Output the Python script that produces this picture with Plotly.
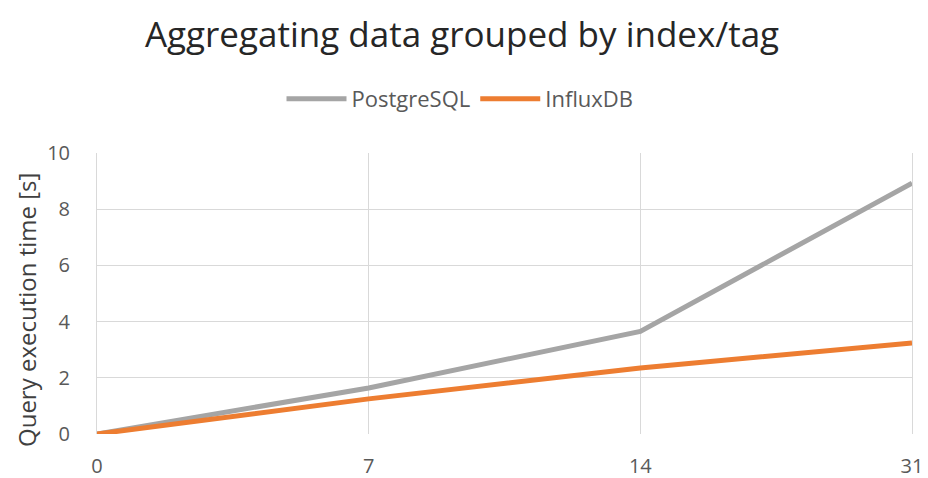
import plotly.graph_objects as go

categories = ["0", "7", "14", "31"]
postgres = [0, 1.64, 3.65, 8.93]
influx = [0, 1.25, 2.35, 3.24]
y_ticks = [0, 2, 4, 6, 8, 10]

# page body has an 8px margin; figure sized to end exactly at the window edge
W, H = 920, 470
PL, PT, PW, PH = 89, 145, 815, 281
fig = go.Figure()
fig.add_trace(go.Scatter(x=categories, y=postgres, mode="lines", name="PostgreSQL",
                         line=dict(color="#A5A5A5", width=5)))
fig.add_trace(go.Scatter(x=categories, y=influx, mode="lines", name="InfluxDB",
                         line=dict(color="#ED7D31", width=5)))

fig.update_layout(
    width=W, height=H,
    margin=dict(l=PL, r=W - PL - PW, t=PT, b=H - PT - PH, autoexpand=False),
    paper_bgcolor="white", plot_bgcolor="white",
    font=dict(family="Open Sans, Liberation Sans, sans-serif", color="#595959"),
    title=dict(text="Aggregating data grouped by index/tag", x=(462 - 8) / W, xanchor="center",
               xref="container", y=1 - 27 / H, yanchor="middle",
               font=dict(size=35, color="#262626")),
    legend=dict(orientation="h", xref="container", x=(460 - 8) / W, xanchor="center",
                y=1 + (PT - 91) / PH, yanchor="middle",
                font=dict(size=22, color="#595959"), itemwidth=60, traceorder="normal"),
    showlegend=True,
    annotations=[dict(text="Query execution time [s]", textangle=-90, showarrow=False,
                      xref="paper", yref="paper", x=(18 - PL) / PW, y=1 - (302 - PT) / PH,
                      xanchor="center", yanchor="middle",
                      font=dict(size=24, color="#404040"))],
)
fig.update_xaxes(type="category", range=[0, 3], showgrid=True, gridcolor="#D9D9D9", gridwidth=1,
                 showline=False, zeroline=False, tickfont=dict(size=20, color="#595959"),
                 ticks="", ticklabelstandoff=18, automargin=False)
fig.update_yaxes(range=[0, 10], tickvals=y_ticks, showgrid=True, gridcolor="#D9D9D9", gridwidth=1,
                 zeroline=False, showline=True, linecolor="#D9D9D9", linewidth=1, mirror=True,
                 tickfont=dict(size=20, color="#595959"),
                 ticks="", ticklabelstandoff=22, automargin=False)
fig.write_html("out.html")
